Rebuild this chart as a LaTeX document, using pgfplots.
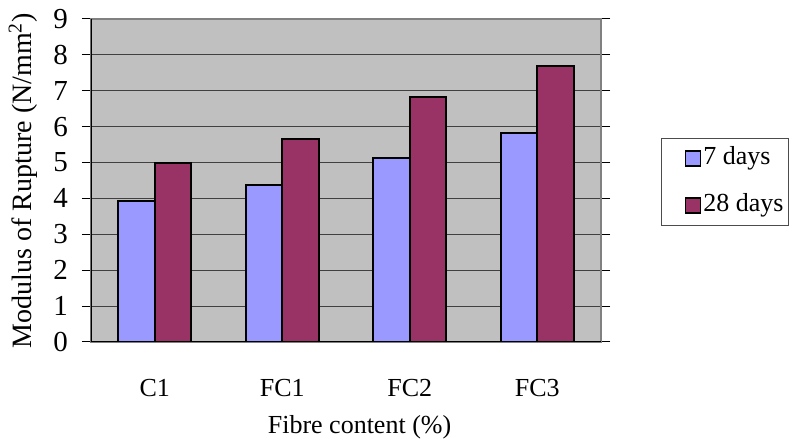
\documentclass[border=0pt]{standalone}
\usepackage{pgfplots}
\pgfplotsset{compat=1.18}
\usepackage{fontspec}
\setmainfont{Liberation Serif}
\definecolor{cblue}{HTML}{9999FF}
\definecolor{cmaroon}{HTML}{993366}
\definecolor{plotgray}{HTML}{C0C0C0}
\begin{document}
\begin{tikzpicture}[font=\fontsize{13}{15.6}\selectfont]
\useasboundingbox (-45.5pt,-50.5pt) rectangle (353.5pt,171pt);
\begin{axis}[
  at={(0,0)}, anchor=south west,
  scale only axis, width=255pt, height=161.5pt,
  xmin=-0.5, xmax=3.5, ymin=0, ymax=9,
  ybar=0pt, bar width=0.288,
  /pgf/number format/assume math mode=true,
  xtick={0,1,2,3}, xticklabels={C1,FC1,FC2,FC3},
  minor xtick={-0.5,0.5,1.5,2.5,3.5},
  ytick={0,1,...,9},
  tick align=outside,
  major tick length=4.5pt, minor tick length=3.5pt,
  xtick style={draw=none},
  minor tick style={draw=black, line width=0.5pt},
  ytick style={draw=black, line width=0.5pt},
  xticklabel style={anchor=base, yshift=-23pt},
  yticklabel style={font=\fontsize{14.5}{17}\selectfont, xshift=-3.5pt},
  ymajorgrids, major grid style={draw=black!75, line width=0.6pt},
  axis background/.style={fill=plotgray},
  axis line style={draw=black!50, line width=0.8pt},
  xlabel={Fibre content (\%)},
  xlabel style={at={(axis description cs:0.5265,-0.282)}, anchor=base},
  ylabel={Modulus of Rupture (N/mm\textsuperscript{2})},
  ylabel style={at={(axis description cs:-0.1157,0.5)}, anchor=base, rotate=0,
    font=\fontsize{14}{17}\selectfont},
  legend style={at={(axis description cs:1.1176,0.6316)}, anchor=north west,
    draw=black!70, line width=0.5pt, inner xsep=2.5pt, inner ysep=4pt,
    row sep=11.5pt, nodes={inner sep=0pt, text height=9pt, text depth=3pt}},
  legend cell align=left,
  legend image code/.code={\path (-9pt,0) (8.5pt,0);
    \draw[#1, line width=0.8pt] (0pt,-3.75pt) rectangle (7.5pt,3.75pt);},
]
\addplot[fill=cblue, draw=black, line width=1pt] coordinates {(0,3.94) (1,4.38) (2,5.13) (3,5.83)};
\addplot[fill=cmaroon, draw=black, line width=1pt] coordinates {(0,4.99) (1,5.67) (2,6.83) (3,7.70)};
\legend{7 days, 28 days}
\draw[black, line width=0.8pt] (axis description cs:0,1) -- (axis description cs:0,0) -- (axis description cs:1,0);
\end{axis}
\end{tikzpicture}
\end{document}
